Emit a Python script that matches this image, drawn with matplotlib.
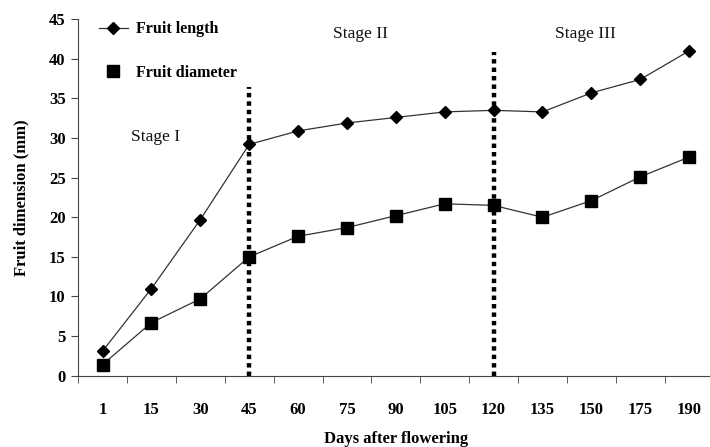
import numpy as np
import matplotlib.pyplot as plt
from matplotlib.lines import Line2D

# days after flowering (categories), equally spaced on the axis
days = ['1', '15', '30', '45', '60', '75', '90', '105', '120', '135', '150', '175', '190']
fruit_length = [3.1, 11.0, 19.7, 29.2, 30.9, 31.9, 32.6, 33.3, 33.5, 33.3, 35.7, 37.4, 41.0]
fruit_diameter = [1.4, 6.7, 9.7, 15.0, 17.6, 18.7, 20.2, 21.7, 21.5, 20.0, 22.1, 25.1, 27.6]

# stage boundaries (category index, top of dotted line)
boundaries = [(3, 36.4), (8, 40.9)]
stages = [('Stage I', 1.08, 30.1), ('Stage II', 5.28, 43.1), ('Stage III', 9.88, 43.1)]

plt.rcParams['font.family'] = 'Liberation Serif'

fig = plt.figure(figsize=(7.1, 4.47), dpi=100)
ax = fig.add_axes([0.110, 0.1595, 0.895, 0.7975])

x = np.arange(len(days))
ax.plot(x, fruit_length, color='#333333', lw=0.9, marker='D', ms=6,
        mfc='black', mec='black', zorder=3)
ax.plot(x, fruit_diameter, color='#333333', lw=0.9, marker='s', ms=9,
        mfc='black', mec='black', zorder=3)

for xi, top in boundaries:
    ax.plot([xi, xi], [0, top], color='black', lw=3.2, linestyle=(0, (1, 0.9)), zorder=2)

for name, sx, sy in stages:
    ax.text(sx, sy, name, fontsize=12.5, ha='center', va='center', color='#111111')

ax.set_xlim(-0.5, len(days) - 0.5)
ax.set_ylim(0, 45)
ax.set_yticks(np.arange(0, 46, 5))
ax.set_xticks(x)
ax.set_xticklabels(days)
ax.set_xticks(np.arange(-0.5, len(days), 1), minor=True)
ax.tick_params(axis='x', which='major', length=0, pad=19, labelsize=12)
ax.tick_params(axis='x', which='minor', length=5, direction='out', color='#444444')
ax.tick_params(axis='y', length=5, direction='out', color='#444444', labelsize=12, pad=4)
for lbl in ax.get_xticklabels() + ax.get_yticklabels():
    lbl.set_fontweight('bold')

ax.spines['top'].set_visible(False)
ax.spines['right'].set_visible(False)
ax.spines['left'].set_color('#444444')
ax.spines['bottom'].set_color('#444444')

ax.set_xlabel('Days after flowering', fontsize=12, fontweight='bold', labelpad=9)
ax.set_ylabel('Fruit dimension (mm)', fontsize=12, fontweight='bold', labelpad=14)

handles = [Line2D([], [], color='#333333', lw=0.9, marker='D', ms=6, mfc='black', mec='black'),
           Line2D([], [], linestyle='none', marker='s', ms=9, mfc='black', mec='black')]
ax.legend(handles, ['Fruit length', 'Fruit diameter'], loc='upper left',
          bbox_to_anchor=(0.01, 1.035), frameon=False, handlelength=1.8,
          handletextpad=0.5, labelspacing=1.75, prop={'weight': 'bold', 'size': 11.5})

fig.savefig('out.png', dpi=100)
